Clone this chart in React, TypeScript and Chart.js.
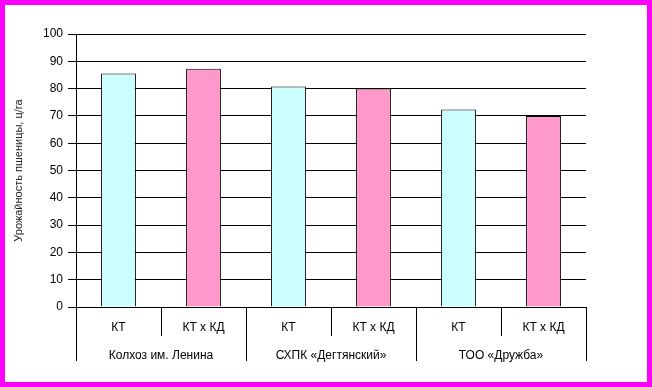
import React, { useEffect, useRef } from 'react';
import { Chart, registerables } from 'chart.js';

Chart.register(...registerables);

const subLabels = ['КТ', 'КТ х КД', 'КТ', 'КТ х КД', 'КТ', 'КТ х КД'];
const groupLabels = ['Колхоз им. Ленина', 'СХПК «Дегтянский»', 'ТОО «Дружба»'];
const yieldValues = [85.5, 87.3, 80.8, 80.0, 72.3, 70.0];
const barColors = ['#CCFFFF', '#FF99CC', '#CCFFFF', '#FF99CC', '#CCFFFF', '#FF99CC'];
const yMin = 0;
const yMax = 100;
const yStep = 10;
const yTitle = 'Урожайность пшеницы, ц/га';

const FONT = "'Liberation Sans', Arial, sans-serif";

const groupAxisPlugin = {
  id: 'groupAxis',
  afterDraw(chart: any) {
    const ctx = chart.ctx;
    const xs = chart.scales.x;
    const n = subLabels.length;
    const step = xs.getPixelForValue(1) - xs.getPixelForValue(0);
    const start = xs.getPixelForValue(0) - step / 2;
    const top = xs.top;
    ctx.save();
    ctx.strokeStyle = '#000';
    ctx.lineWidth = 1;
    for (let b = 0; b <= n; b++) {
      const px = Math.round(start + b * step) + 0.5;
      const len = b % 2 === 0 ? 54 : 29;
      ctx.beginPath();
      ctx.moveTo(px, top);
      ctx.lineTo(px, top + len);
      ctx.stroke();
    }
    ctx.fillStyle = '#000';
    ctx.font = `12px ${FONT}`;
    ctx.textAlign = 'center';
    ctx.textBaseline = 'middle';
    groupLabels.forEach((g, i) => {
      const l = start + i * 2 * step;
      const r = start + (i * 2 + 2) * step;
      ctx.fillText(g, (l + r) / 2, top + 48.5);
    });
    ctx.restore();
  },
};

export default function App() {
  const ref = useRef<HTMLCanvasElement>(null);
  useEffect(() => {
    if (!ref.current) return;
    const chart = new Chart(ref.current, {
      type: 'bar',
      data: {
        labels: subLabels,
        datasets: [
          {
            data: yieldValues,
            backgroundColor: barColors,
            borderColor: '#000',
            borderWidth: 1,
            barPercentage: 0.41,
            categoryPercentage: 1,
          },
        ],
      },
      options: {
        responsive: false,
        animation: false,
        devicePixelRatio: 1,
        layout: { padding: { left: 0, right: 61, top: 29, bottom: 21 } },
        plugins: {
          legend: { display: false },
          tooltip: { enabled: false },
        },
        scales: {
          x: {
            grid: { display: false },
            border: { display: true, color: '#000', width: 1 },
            ticks: {
              color: '#000',
              font: { family: FONT, size: 12 },
              padding: 5,
              maxRotation: 0,
              autoSkip: false,
            },
            afterFit(scale: any) {
              scale.height = 54;
            },
          },
          y: {
            min: yMin,
            max: yMax,
            ticks: {
              stepSize: yStep,
              color: '#000',
              font: { family: FONT, size: 12 },
              padding: 5,
            },
            grid: { color: '#000', lineWidth: 1, tickLength: 8, drawTicks: true },
            border: { display: true, color: '#000', width: 1 },
            title: {
              display: true,
              text: yTitle,
              color: '#222',
              font: { family: FONT, size: 11 },
              padding: { top: 7, bottom: 0 },
            },
            afterFit(scale: any) {
              scale.width = 71;
            },
          },
        },
      },
      plugins: [groupAxisPlugin],
    });
    return () => chart.destroy();
  }, []);
  return (
    <div
      style={{
        position: 'fixed',
        left: 0,
        top: 0,
        width: 652,
        height: 387,
        boxSizing: 'border-box',
        border: '5px solid #FF00FF',
        background: '#fff',
      }}
    >
      <canvas ref={ref} width={642} height={377} style={{ display: 'block' }} />
    </div>
  );
}
